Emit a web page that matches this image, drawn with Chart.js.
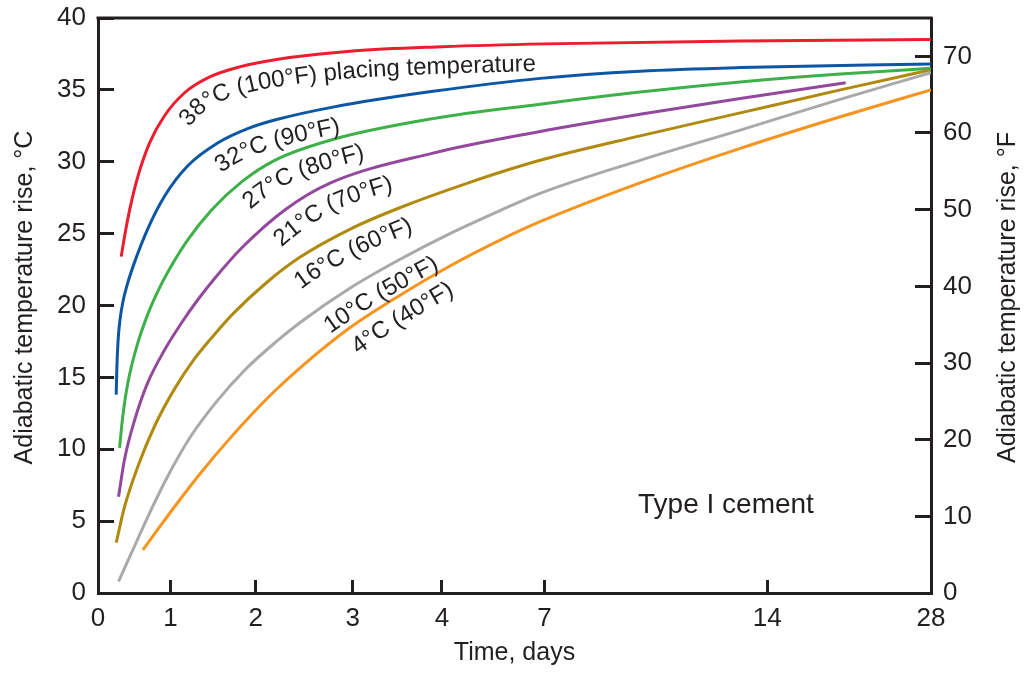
<!DOCTYPE html>
<html>
<head>
<meta charset="utf-8">
<script src="https://cdn.jsdelivr.net/npm/chart.js@4"></script>
<style>body{margin:0;background:#fff}</style>
</head>
<body>
<canvas id="chart" width="1024" height="673"></canvas>
<script>
// x axis is not linear in the source figure: ticks at these days, placed at these fractions of the axis
const tickDays = [0, 1, 2, 3, 4, 7, 14, 28];
const tickSpots = [0, 0.0871, 0.1893, 0.3059, 0.4129, 0.5361, 0.8035, 1];

// one pair of arrays per placing temperature: time (days) and adiabatic rise (°C)
const days38 = [0.32, 0.366, 0.434, 0.545, 0.71, 0.917, 1.165, 1.46, 1.81, 2.2, 3, 4, 7, 13.15, 28];
const rise38 = [23.4, 24.8, 26.6, 28.9, 31.3, 33.2, 34.8, 35.9, 36.6, 37.1, 37.7, 38.0, 38.2, 38.4, 38.5];

const days32 = [0.251, 0.259, 0.276, 0.303, 0.345, 0.4, 0.503, 0.683, 0.917, 1.2, 1.553, 1.906, 2.196, 2.794, 3.899, 6.87, 10, 13.15, 28];
const rise32 = [13.8, 15.5, 17.5, 19.0, 20.3, 21.4, 23.0, 25.3, 27.6, 29.7, 31.3, 32.3, 32.9, 33.8, 34.9, 35.8, 36.3, 36.55, 36.8];

const days27 = [0.297, 0.342, 0.411, 0.549, 0.687, 0.821, 0.959, 1.2, 1.482, 1.835, 2.196, 2.794, 3.899, 6.87, 10, 13.15, 20.25, 28];
const rise27 = [10.1, 12.3, 14.6, 17.4, 19.4, 20.95, 22.3, 24.55, 26.65, 28.6, 30.1, 31.55, 33.0, 34.0, 34.85, 35.55, 36.1, 36.5];

const days21 = [0.283, 0.366, 0.503, 0.683, 0.917, 1.13, 1.32, 1.52, 1.835, 2.31, 2.76, 3.9, 6.87, 10, 13.15, 20.7];
const rise21 = [6.7, 9.3, 12.0, 14.6, 16.9, 18.8, 20.4, 21.9, 24.0, 26.7, 28.5, 30.6, 32.1, 33.3, 34.4, 35.5];

const days16 = [0.251, 0.366, 0.549, 0.779, 1.047, 1.282, 1.518, 1.729, 2.113, 2.454, 2.969, 3.526, 4.732, 6.87, 10, 13.15, 20.25, 28];
const rise16 = [3.5, 6.0, 8.8, 11.6, 14.2, 16.3, 18.0, 19.4, 21.6, 23.35, 25.3, 26.8, 28.5, 30.1, 31.8, 33.4, 35.0, 36.4];

const days10 = [0.283, 0.458, 0.687, 0.959, 1.232, 1.545, 1.87, 2.196, 2.454, 2.969, 3.526, 4.234, 5.698, 6.868, 10, 13.15, 19.65, 28];
const rise10 = [0.8, 2.75, 5.3, 8.1, 10.85, 13.35, 15.5, 17.4, 18.8, 21.2, 23.2, 25.0, 26.6, 27.8, 30.1, 32.2, 34.2, 36.2];

const days4 = [0.618, 0.779, 1.047, 1.361, 1.674, 1.95, 2.196, 2.454, 2.969, 3.526, 4.234, 5.698, 6.868, 10, 13.15, 20.25, 28];
const rise4 = [3.0, 4.11, 6.0, 8.4, 10.6, 12.4, 14.05, 15.65, 18.45, 20.7, 22.75, 24.55, 25.83, 28.53, 30.93, 33.13, 35.0];

const curveNames = ['38°C (100°F) placing temperature', '32°C (90°F)', '27°C (80°F)', '21°C (70°F)', '16°C (60°F)', '10°C (50°F)', '4°C (40°F)'];
const curveLabelDays = [0.95, 1.4, 1.72, 2.07, 2.29, 2.6, 2.88];
const curveColors = ['#ed1c2e', '#0b57a4', '#3db049', '#93489d', '#b0890f', '#a8a9ab', '#f7941e'];
const allDays = [days38, days32, days27, days21, days16, days10, days4];
const allRise = [rise38, rise32, rise27, rise21, rise16, rise10, rise4];

const ink = '#231f20';
const family = '"Liberation Sans", Arial, sans-serif';

function dayToFrac(v) {
  for (let i = 0; i < tickDays.length - 1; i++) {
    if (v <= tickDays[i + 1]) {
      const t = (v - tickDays[i]) / (tickDays[i + 1] - tickDays[i]);
      return tickSpots[i] + t * (tickSpots[i + 1] - tickSpots[i]);
    }
  }
  return 1;
}
function fracToDay(f) {
  for (let i = 0; i < tickSpots.length - 1; i++) {
    if (f <= tickSpots[i + 1]) {
      const t = (f - tickSpots[i]) / (tickSpots[i + 1] - tickSpots[i]);
      return tickDays[i] + t * (tickDays[i + 1] - tickDays[i]);
    }
  }
  return tickDays[tickDays.length - 1];
}

class DaysScale extends Chart.LinearScale {
  buildTicks() { return tickDays.map(v => ({ value: v })); }
  getPixelForValue(v) { return v == null ? NaN : this.getPixelForDecimal(dayToFrac(v)); }
  getValueForPixel(p) { return fracToDay(this.getDecimalForPixel(p)); }
}
DaysScale.id = 'days';
DaysScale.defaults = Chart.LinearScale.defaults;
Chart.register(DaysScale);

// text that follows each curve, a fixed distance below it
const curveLabels = {
  id: 'curveLabels',
  afterDatasetsDraw(chart) {
    const ctx = chart.ctx;
    const gap = 27;
    ctx.save();
    ctx.fillStyle = ink;
    ctx.font = '24px ' + family;
    ctx.textAlign = 'center';
    ctx.textBaseline = 'alphabetic';
    chart.data.datasets.forEach((ds, i) => {
      const pts = chart.getDatasetMeta(i).data;
      const path = [];
      for (let k = 0; k < pts.length - 1; k++) {
        const a = pts[k], b = pts[k + 1];
        const c1x = a.cp2x ?? a.x, c1y = a.cp2y ?? a.y, c2x = b.cp1x ?? b.x, c2y = b.cp1y ?? b.y;
        for (let s = 0; s < 20; s++) {
          const t = s / 20, u = 1 - t;
          path.push({
            x: u*u*u*a.x + 3*u*u*t*c1x + 3*u*t*t*c2x + t*t*t*b.x,
            y: u*u*u*a.y + 3*u*u*t*c1y + 3*u*t*t*c2y + t*t*t*b.y
          });
        }
      }
      const last = pts[pts.length - 1];
      path.push({ x: last.x, y: last.y });
      const off = path.map((p, k) => {
        const q0 = path[Math.max(k - 3, 0)], q1 = path[Math.min(k + 3, path.length - 1)];
        let tx = q1.x - q0.x, ty = q1.y - q0.y;
        const len = Math.hypot(tx, ty) || 1;
        tx /= len; ty /= len;
        return { x: p.x - ty * gap, y: p.y + tx * gap, a: Math.atan2(ty, tx) };
      });
      const cum = [0];
      for (let k = 1; k < off.length; k++) cum.push(cum[k - 1] + Math.hypot(off[k].x - off[k - 1].x, off[k].y - off[k - 1].y));
      const startPx = chart.scales.x.getPixelForValue(curveLabelDays[i]);
      let k0 = path.findIndex(p => p.x >= startPx);
      if (k0 < 0) return;
      let s = cum[k0];
      for (const ch of curveNames[i]) {
        const w = ctx.measureText(ch).width;
        const target = s + w / 2;
        let j = k0;
        while (j < cum.length - 2 && cum[j + 1] < target) j++;
        const seg = cum[j + 1] - cum[j] || 1;
        const f = Math.min(Math.max((target - cum[j]) / seg, 0), 1);
        const x = off[j].x + f * (off[j + 1].x - off[j].x);
        const y = off[j].y + f * (off[j + 1].y - off[j].y);
        ctx.save();
        ctx.translate(x, y);
        ctx.rotate(off[j].a);
        ctx.fillText(ch, 0, 0);
        ctx.restore();
        s += w;
      }
    });
    // annotation
    ctx.font = '28px ' + family;
    ctx.textBaseline = 'middle';
    ctx.fillText('Type I cement', chart.scales.x.getPixelForValue(12.7), chart.scales.y.getPixelForValue(6.1));
    ctx.restore();
  }
};

// top edge of the frame and both axis titles (both read bottom to top)
const frameExtras = {
  id: 'frameExtras',
  afterDraw(chart) {
    const { ctx, chartArea } = chart;
    ctx.save();
    ctx.strokeStyle = ink;
    ctx.lineWidth = 3;
    ctx.beginPath();
    ctx.moveTo(chartArea.left - 1.5, chartArea.top);
    ctx.lineTo(chartArea.right + 1.5, chartArea.top);
    ctx.stroke();
    ctx.fillStyle = ink;
    ctx.font = '25px ' + family;
    ctx.textAlign = 'center';
    ctx.textBaseline = 'middle';
    const midY = (chartArea.top + chartArea.bottom) / 2 - 8;
    [[25, '°C'], [1008, '°F']].forEach(([x, unit]) => {
      ctx.save();
      ctx.translate(x, midY);
      ctx.rotate(-Math.PI / 2);
      ctx.fillText('Adiabatic temperature rise, ' + unit, 0, 0);
      ctx.restore();
    });
    ctx.restore();
  }
};

const datasets = allDays.map((d, i) => ({
  label: curveNames[i],
  data: d.map((x, k) => ({ x: x, y: allRise[i][k] })),
  borderColor: curveColors[i],
  borderWidth: 3,
  pointRadius: 0,
  cubicInterpolationMode: 'monotone',
  fill: false
}));

const axisFont = { family: family, size: 26 };
const titleFont = { family: family, size: 25 };
const noPad = s => { s.paddingTop = 0; s.paddingBottom = 0; s.paddingLeft = 0; s.paddingRight = 0; };

new Chart(document.getElementById('chart'), {
  type: 'line',
  data: { datasets: datasets },
  options: {
    responsive: false,
    animation: false,
    layout: { padding: { top: 18, left: 0, right: 0, bottom: 0 } },
    plugins: { legend: { display: false }, tooltip: { enabled: false } },
    scales: {
      x: {
        type: 'days',
        position: 'bottom',
        min: 0,
        max: 28,
        grid: { drawOnChartArea: false, tickLength: -13, tickWidth: 3, tickColor: ink },
        border: { color: ink, width: 3 },
        ticks: { font: axisFont, color: ink, padding: 23, maxRotation: 0, autoSkip: false },
        title: { display: true, text: 'Time, days', font: titleFont, color: ink, padding: { top: 0, bottom: 5 } },
        afterFit: s => { s.height = 80; noPad(s); }
      },
      y: {
        position: 'left',
        min: 0,
        max: 40,
        grid: { drawOnChartArea: false, tickLength: -16, tickWidth: 3, tickColor: ink },
        border: { color: ink, width: 3 },
        ticks: { stepSize: 5, font: axisFont, color: ink, padding: 28 },
        afterFit: s => { s.width = 98; noPad(s); }
      },
      y2: {
        position: 'right',
        min: 0,
        max: 75,
        grid: { drawOnChartArea: false, tickLength: -16, tickWidth: 3, tickColor: ink },
        border: { color: ink, width: 3 },
        ticks: { stepSize: 10, font: axisFont, color: ink, padding: 28 },
        afterBuildTicks: s => { s.ticks = s.ticks.filter(t => t.value <= 70); },
        afterFit: s => { s.width = 93; noPad(s); }
      }
    }
  },
  plugins: [curveLabels, frameExtras]
});
</script>
</body>
</html>
